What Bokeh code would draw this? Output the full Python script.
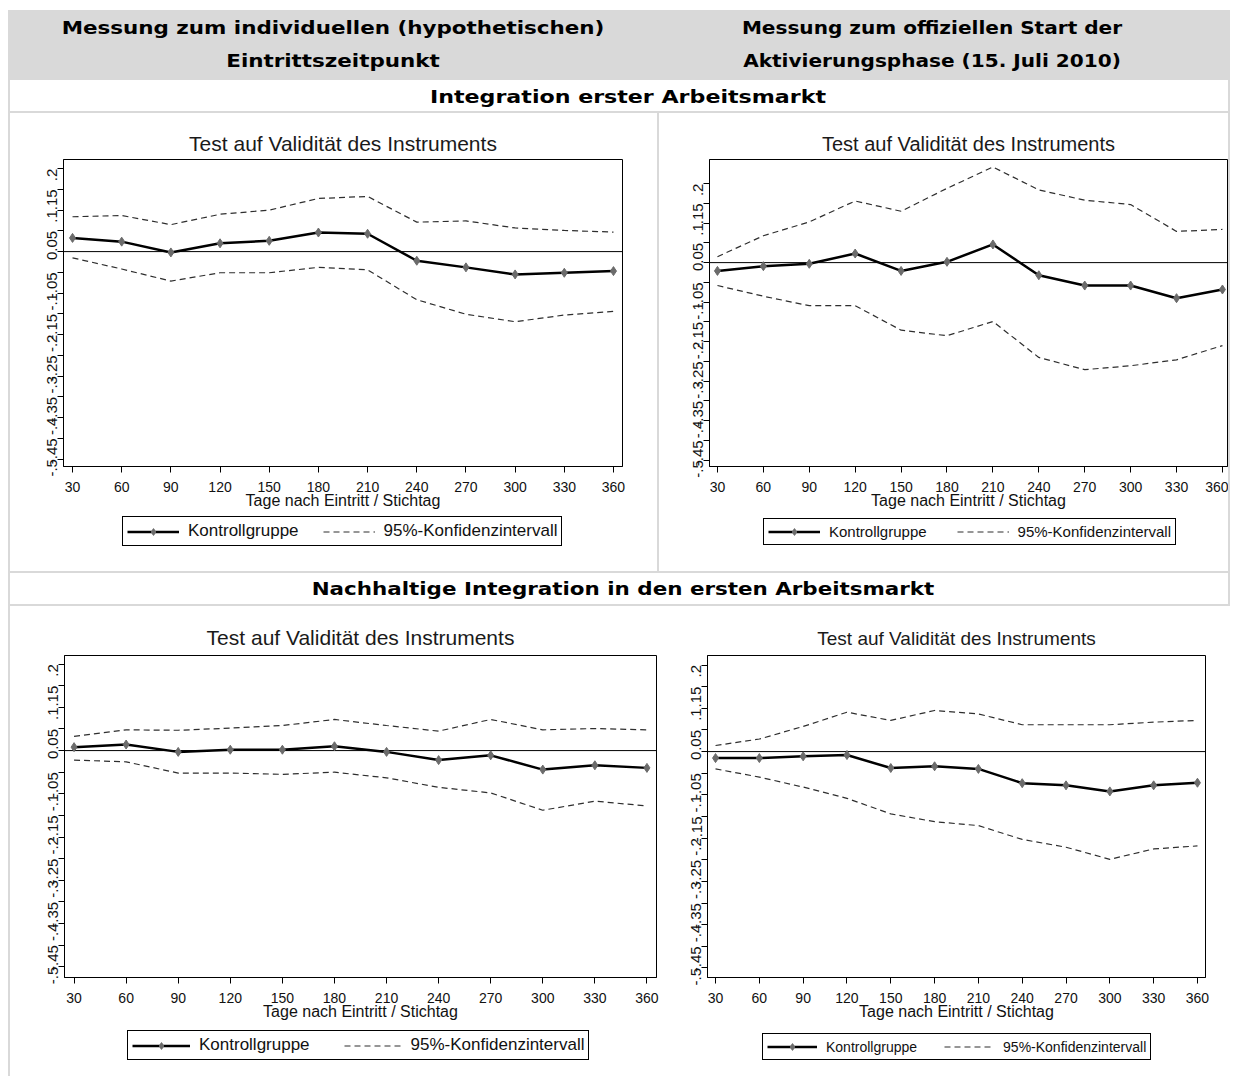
import math
from bokeh.plotting import figure
from bokeh.models import (Div, Span, Legend, LegendItem, FixedTicker,
                          CustomJSTickFormatter, Range1d)
from bokeh.layouts import column, row
from bokeh.embed import file_html
from bokeh.resources import INLINE

# ---------------- data ----------------
days = [30, 60, 90, 120, 150, 180, 210, 240, 270, 300, 330, 360]
y_ticks = [-0.5, -0.45, -0.4, -0.35, -0.3, -0.25, -0.2, -0.15, -0.1, -0.05,
           0.0, 0.05, 0.1, 0.15, 0.2]

# Integration erster Arbeitsmarkt, individueller Eintrittszeitpunkt
tl_kontroll = [0.033, 0.024, -0.002, 0.020, 0.026, 0.046, 0.043, -0.022, -0.038, -0.055, -0.051, -0.047]
tl_upper = [0.084, 0.087, 0.065, 0.090, 0.100, 0.128, 0.133, 0.071, 0.074, 0.057, 0.051, 0.047]
tl_lower = [-0.015, -0.042, -0.071, -0.051, -0.051, -0.038, -0.044, -0.116, -0.151, -0.169, -0.153, -0.144]

# Integration erster Arbeitsmarkt, offizieller Start
tr_kontroll = [-0.021, -0.009, -0.003, 0.023, -0.021, 0.002, 0.046, -0.032, -0.058, -0.058, -0.090, -0.068]
tr_upper = [0.015, 0.068, 0.103, 0.156, 0.130, 0.188, 0.242, 0.184, 0.158, 0.147, 0.079, 0.084]
tr_lower = [-0.058, -0.085, -0.109, -0.109, -0.171, -0.185, -0.149, -0.240, -0.271, -0.261, -0.246, -0.210]

# Nachhaltige Integration, individueller Eintrittszeitpunkt
bl_kontroll = [0.008, 0.014, -0.003, 0.002, 0.002, 0.010, -0.003, -0.022, -0.011, -0.044, -0.034, -0.040]
bl_upper = [0.033, 0.048, 0.047, 0.052, 0.058, 0.072, 0.058, 0.045, 0.072, 0.048, 0.051, 0.048]
bl_lower = [-0.022, -0.026, -0.052, -0.052, -0.055, -0.050, -0.063, -0.085, -0.098, -0.138, -0.117, -0.128]

# Nachhaltige Integration, offizieller Start
br_kontroll = [-0.015, -0.015, -0.011, -0.008, -0.038, -0.034, -0.040, -0.073, -0.078, -0.092, -0.078, -0.072]
br_upper = [0.014, 0.029, 0.058, 0.091, 0.072, 0.095, 0.087, 0.062, 0.062, 0.062, 0.068, 0.072]
br_lower = [-0.040, -0.059, -0.082, -0.108, -0.144, -0.162, -0.171, -0.203, -0.221, -0.249, -0.225, -0.218]

col_head_left = ["Messung zum individuellen (hypothetischen)", "Eintrittszeitpunkt"]
col_head_right = ["Messung zum offiziellen Start der", "Aktivierungsphase (15. Juli 2010)"]
section_1 = "Integration erster Arbeitsmarkt"
section_2 = "Nachhaltige Integration in den ersten Arbeitsmarkt"
plot_title = "Test auf Validität des Instruments"
x_label = "Tage nach Eintritt / Stichtag"
legend_labels = ["Kontrollgruppe", "95%-Konfidenzintervall"]

GREY = "#d9d9d9"
FONT = "Liberation Sans"
MAIN_STYLE = dict(line_color="black", line_width=2.5)
MARK_STYLE = dict(marker="diamond", size=9, fill_color="#6b6b6b", line_color="#6b6b6b")
CI_STYLE = dict(line_color="#2e2e2e", line_width=1.2, line_dash="6 4")

fmt = CustomJSTickFormatter(code="""
if (Math.abs(tick) < 1e-9) { return "0"; }
let s = tick.toFixed(2).replace(/0+$/, "").replace(/\\.$/, "");
return s.replace("0.", ".");
""")


def make_panel(kontroll, upper, lower, w, h, bl, br, bt, bb, xr, yr,
               title_size, title_standoff):
    p = figure(width=w, height=h, output_backend="svg", toolbar_location=None,
               x_range=Range1d(*xr), y_range=Range1d(*yr),
               min_border_left=bl, min_border_right=br,
               min_border_top=bt, min_border_bottom=bb,
               title=plot_title, background_fill_color="white",
               border_fill_color="white")
    p.title.align = "center"
    p.title.text_font = FONT
    p.title.text_font_style = "normal"
    p.title.text_font_size = f"{title_size}px"
    p.title.text_color = "#1a1a1a"
    p.title.standoff = title_standoff
    p.xgrid.visible = False
    p.ygrid.visible = False
    p.outline_line_color = "black"
    p.outline_line_width = 1
    p.outline_line_alpha = 1

    p.xaxis.ticker = FixedTicker(ticks=days)
    p.yaxis.ticker = FixedTicker(ticks=y_ticks)
    p.yaxis.formatter = fmt
    p.yaxis.major_label_orientation = math.pi / 2
    for ax in (p.xaxis, p.yaxis):
        ax.minor_tick_line_color = None
        ax.major_tick_out = 6
        ax.major_tick_in = 0
        ax.major_tick_line_color = "black"
        ax.axis_line_color = "black"
        ax.major_label_text_font = FONT
        ax.major_label_text_color = "#111111"
    p.xaxis.major_label_text_font_size = "14px"
    p.yaxis.major_label_text_font_size = "15px"
    p.xaxis.major_label_standoff = 9
    p.yaxis.major_label_standoff = 5
    p.xaxis.axis_label = x_label
    p.xaxis.axis_label_text_font = FONT
    p.xaxis.axis_label_text_font_style = "normal"
    p.xaxis.axis_label_text_font_size = "16px"
    p.xaxis.axis_label_text_color = "#111111"
    p.xaxis.axis_label_standoff = -3

    zero = Span(location=0, dimension="width", line_color="black",
                line_width=1, level="underlay")
    p.add_layout(zero)

    p.line(days, upper, **CI_STYLE)
    p.line(days, lower, **CI_STYLE)
    p.line(days, kontroll, **MAIN_STYLE)
    p.scatter(days, kontroll, **MARK_STYLE)
    return p


def make_legend(kontroll, upper, w, h, bl, br, leg_x, leg_y, legend_size,
                glyph_w, spacing):
    # legend strip below the plot; the series are drawn out of its (empty) view
    q = figure(width=w, height=h, output_backend="svg", toolbar_location=None,
               x_range=Range1d(0, 1), y_range=Range1d(0, 1),
               x_axis_location=None, y_axis_location=None,
               min_border_left=bl, min_border_right=br,
               min_border_top=0, min_border_bottom=0,
               background_fill_color="white", border_fill_color="white")
    q.grid.visible = False
    q.outline_line_color = None
    r_main = q.line(days, kontroll, **MAIN_STYLE)
    r_mark = q.scatter(days, kontroll, **MARK_STYLE)
    r_ci = q.line(days, upper, **CI_STYLE)
    legend = Legend(items=[LegendItem(label=legend_labels[0], renderers=[r_main, r_mark]),
                           LegendItem(label=legend_labels[1], renderers=[r_ci])],
                    orientation="horizontal", location=(leg_x, leg_y),
                    border_line_color="black", border_line_width=1,
                    border_line_alpha=1, background_fill_alpha=1,
                    label_text_font=FONT, label_text_font_size=f"{legend_size}px",
                    label_text_color="#111111",
                    glyph_width=glyph_w, glyph_height=17, label_height=17,
                    padding=4, spacing=spacing, label_standoff=9, margin=0)
    q.add_layout(legend, "center")
    return q


fig1 = make_panel(tl_kontroll, tl_upper, tl_lower, 647, 402, 53, 35, 46, 49,
                  (24.5, 365.5), (-0.518, 0.222), 21, 10)
fig2 = make_panel(tr_kontroll, tr_upper, tr_lower, 569, 402, 50, 1, 46, 49,
                  (24.8, 363.3), (-0.516, 0.261), 20, 10)
fig3 = make_panel(bl_kontroll, bl_upper, bl_lower, 649, 420, 54, 3, 49, 49,
                  (24.5, 365.5), (-0.525, 0.22), 21, 13)
fig4 = make_panel(br_kontroll, br_upper, br_lower, 569, 420, 48, 23, 49, 49,
                  (24.5, 365.5), (-0.522, 0.222), 19, 13)

leg1 = make_legend(tl_kontroll, tl_upper, 647, 56, 53, 35, 59, 25, 17, 52, 24)
leg2 = make_legend(tr_kontroll, tr_upper, 569, 56, 50, 1, 54, 26, 15, 52, 30)
leg3 = make_legend(bl_kontroll, bl_upper, 649, 50, 54, 3, 63, 16, 17, 58, 34)
leg4 = make_legend(br_kontroll, br_upper, 569, 50, 48, 23, 55, 16, 14, 50, 27)

HF = 18


def sx(f):
    return f"transform:scaleX({f});transform-origin:center;"


header_html = f"""
<div style="position:relative;width:1222px;height:105px;font-family:'DejaVu Sans',sans-serif;font-weight:bold;font-size:{HF}px;color:#000;">
<div style="position:absolute;left:0;top:2px;width:1222px;height:70px;background:{GREY};"></div>
<div style="position:absolute;left:0;top:3px;width:650px;text-align:center;line-height:33px;white-space:nowrap;{sx(1.19)}">{col_head_left[0]}<br>{col_head_left[1]}</div>
<div style="position:absolute;left:650px;top:3px;width:548px;text-align:center;line-height:33px;white-space:nowrap;{sx(1.115)}">{col_head_right[0]}<br>{col_head_right[1]}</div>
<div style="position:absolute;left:0;top:72px;width:2px;height:33px;background:{GREY};"></div>
<div style="position:absolute;left:1220px;top:72px;width:2px;height:33px;background:{GREY};"></div>
<div style="position:absolute;left:0;top:103px;width:1222px;height:2px;background:{GREY};"></div>
<div style="position:absolute;left:20px;top:76px;width:1200px;text-align:center;line-height:26px;white-space:nowrap;{sx(1.23)}">{section_1}</div>
</div>"""

section_html = f"""
<div style="position:relative;width:1222px;height:35px;font-family:'DejaVu Sans',sans-serif;font-weight:bold;font-size:{HF}px;color:#000;">
<div style="position:absolute;left:0;top:0;width:1222px;height:2px;background:{GREY};"></div>
<div style="position:absolute;left:0;top:33px;width:1222px;height:2px;background:{GREY};"></div>
<div style="position:absolute;left:0;top:0;width:2px;height:35px;background:{GREY};"></div>
<div style="position:absolute;left:1220px;top:0;width:2px;height:35px;background:{GREY};"></div>
<div style="position:absolute;left:15px;top:5px;width:1200px;text-align:center;line-height:26px;white-space:nowrap;{sx(1.19)}">{section_2}</div>
</div>"""

header = Div(text=header_html, width=1222, height=105, margin=0)
section = Div(text=section_html, width=1222, height=35, margin=0)


def bar(h, color):
    return Div(text="", width=2, height=h, margin=0,
               styles={"background-color": color})


top_row = row(bar(458, GREY), column(fig1, leg1, spacing=0), bar(458, GREY),
              column(fig2, leg2, spacing=0), bar(458, GREY), spacing=0)
bottom_row = row(bar(470, GREY), column(fig3, leg3, spacing=0),
                 column(fig4, leg4, spacing=0), bar(470, "white"), spacing=0)

layout = column(header, top_row, section, bottom_row, spacing=0, margin=(8, 0, 0, 8))

open("out.html", "w").write(file_html(layout, INLINE))
